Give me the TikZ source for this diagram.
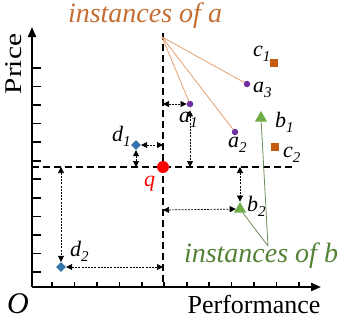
\documentclass[tikz,border=0pt]{standalone}
\usepackage{fontspec}
\setmainfont{Liberation Serif}
\newfontfamily\tnr{Liberation Serif}
\usetikzlibrary{arrows.meta,shapes.geometric}
\definecolor{txtorange}{RGB}{197,110,50}
\definecolor{lineorange}{RGB}{228,160,110}
\definecolor{sqorange}{RGB}{197,90,17}
\definecolor{ptpurple}{RGB}{112,48,160}
\definecolor{ptblue}{RGB}{52,116,172}
\definecolor{ptgreen}{RGB}{112,173,71}
\definecolor{txtgreen}{RGB}{84,130,53}
\definecolor{linegreen}{RGB}{110,140,90}
\newcommand\ptlab[2]{#1\raisebox{-5pt}{\fontsize{15}{15}\selectfont #2}}
\begin{document}
\begin{tikzpicture}[x=1pt,y=-1pt,
  axisline/.style={line width=2pt,-{Triangle[length=10pt,width=8pt]}},
  qline/.style={line width=1.8pt,dash pattern=on 7pt off 4pt},
  darr/.style={line width=0.7pt,dash pattern=on 2pt off 1.2pt,{Triangle[length=6pt,width=6pt]}-{Triangle[length=6pt,width=6pt]}},
  apt/.style={circle,fill=ptpurple,minimum size=6.5pt,inner sep=0pt},
  cpt/.style={rectangle,fill=sqorange,minimum size=8pt,inner sep=0pt},
  dpt/.style={diamond,fill=ptblue,minimum size=10pt,inner sep=0pt},
  bpt/.style={regular polygon,regular polygon sides=3,fill=ptgreen,minimum size=14pt,inner sep=0pt},
  lbl/.style={font=\tnr\fontsize{22}{22}\selectfont\itshape,inner sep=0pt,anchor=base west},
  big/.style={inner sep=0pt,anchor=base}]
\useasboundingbox (0,0) rectangle (348,319);
% axes
\coordinate (O) at (32,287);
\coordinate (ytop) at (32,27);
\coordinate (xend) at (321,287);
\draw[axisline] (O) -- (ytop);
\draw[axisline] (O) -- (xend);
\foreach \i in {0,...,11} {
  \draw[line width=1.6pt] (32,{272-18.55*\i}) -- ++(9,0);
  \draw[line width=1.6pt] ({52+22.45*\i},287) -- ++(0,-5);
}
% dashed lines through q
\coordinate (vt) at (163,33);
\coordinate (vb) at (163,287);
\coordinate (hl) at (32,167);
\coordinate (hr) at (294,167);
\draw[qline] (vt) -- (vb);
\draw[qline] (hl) -- (hr);
% points
\node[apt] (a1) at (190,104) {};
\node[apt] (a2) at (235,132) {};
\node[apt] (a3) at (247,84) {};
\node[cpt] (c1) at (274,63) {};
\node[cpt] (c2) at (275,147) {};
\node[dpt] (d1) at (136,145) {};
\node[dpt] (d2) at (61,267) {};
\node[bpt] (b1) at (261,118) {};
\node[bpt] (b2) at (240,209) {};
\node[circle,fill=red,minimum size=12pt,inner sep=0pt] (q) at (163,167) {};
% instance connectors
\coordinate (ia) at (162,37);
\coordinate (ib) at (268,246);
\draw[lineorange,line width=0.8pt] (ia) -- (a1);
\draw[lineorange,line width=0.8pt] (ia) -- (a2);
\draw[lineorange,line width=0.8pt] (ia) -- (a3);
\draw[linegreen,line width=0.8pt] (ib) -- (b1);
\draw[linegreen,line width=0.8pt] (ib) -- (b2);
% distance arrows
\coordinate (hd2) at (61,167);
\coordinate (vd2) at (163,267);
\coordinate (vb2) at (163,210);
\coordinate (hb2) at (240,167);
\coordinate (ha1) at (190,167);
\coordinate (va1) at (163,104);
\coordinate (vd1) at (163,145);
\coordinate (hd1) at (136,167);
\draw[darr] (hd2) -- (d2);
\draw[darr] (d2) -- (vd2);
\draw[darr] (vb2) -- (b2);
\draw[darr] (hb2) -- (b2);
\draw[darr,shorten <=3pt] (a1) -- (ha1);
\draw[darr] (va1) -- (a1);
\draw[darr] (d1) -- (vd1);
\draw[darr] (d1) -- (hd1);
% labels
\node[lbl] (la1) at (179,122) {\ptlab{a}{1}};
\node[lbl] (la2) at (228,147) {\ptlab{a}{2}};
\node[lbl] (la3) at (253,92) {\ptlab{a}{3}};
\node[lbl] (lc1) at (253,56) {\ptlab{c}{1}};
\node[lbl] (lc2) at (283,157) {\ptlab{c}{2}};
\node[lbl] (lb1) at (275,127) {\ptlab{b}{1}};
\node[lbl] (lb2) at (247,211) {\ptlab{b}{2}};
\node[lbl] (ld1) at (112,141) {\ptlab{d}{1}};
\node[lbl] (ld2) at (70,256) {\ptlab{d}{2}};
\node[lbl,text=red] (lq) at (144,186) {q};
\node[big,font=\tnr\fontsize{28}{28}\selectfont\itshape,text=txtorange] (insta) at (145,22) {instances of a};
\node[big,font=\tnr\fontsize{28}{28}\selectfont\itshape,text=txtgreen] (instb) at (261,262) {instances of b};
\node[big,font=\tnr\fontsize{26}{26}\selectfont] (perf) at (254,313) {Performance};
\node[big,font=\tnr\fontsize{24}{24}\selectfont,rotate=90] (price) at (21,64) {\scalebox{1.22}[1]{Price}};
\node[big,font=\tnr\fontsize{30}{30}\selectfont\itshape] (origin) at (18,313) {O};
\end{tikzpicture}
\end{document}
